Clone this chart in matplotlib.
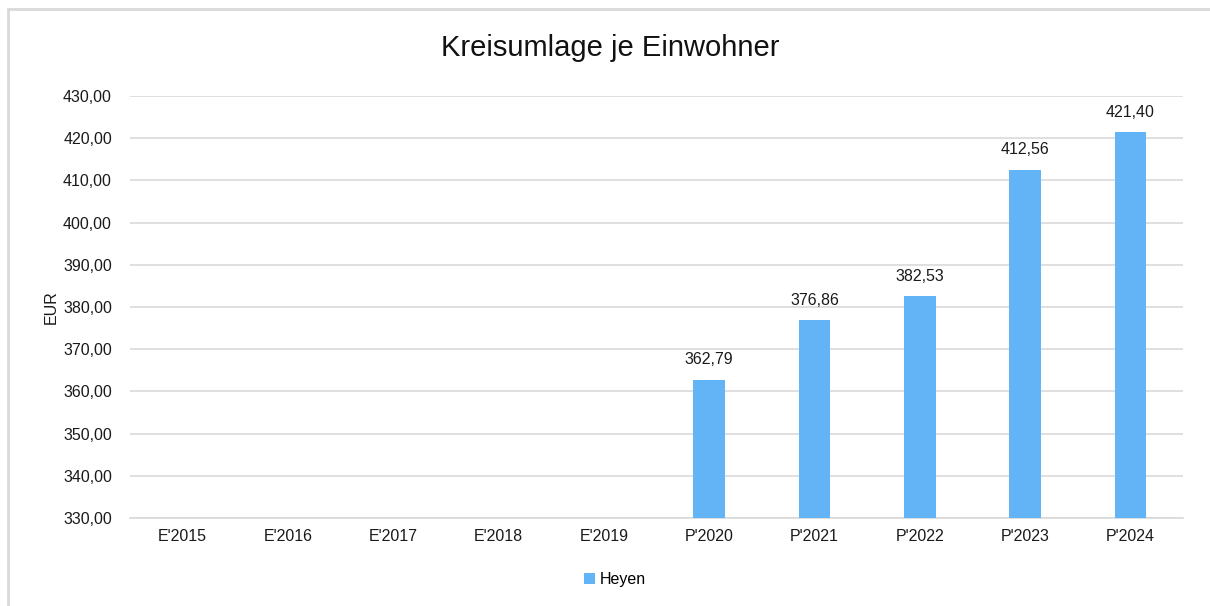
import matplotlib.pyplot as plt
from matplotlib.patches import Rectangle
import numpy as np

plt.rcParams['font.family'] = ['Liberation Sans', 'DejaVu Sans']

years = ["E'2015", "E'2016", "E'2017", "E'2018", "E'2019",
         "P'2020", "P'2021", "P'2022", "P'2023", "P'2024"]
heyen = [np.nan, np.nan, np.nan, np.nan, np.nan,
         362.79, 376.86, 382.53, 412.56, 421.40]

fig = plt.figure(figsize=(12.1, 6.06), dpi=100)
ax = fig.add_axes([0.1074, 0.1452, 0.8703, 0.6964])

x = np.arange(len(years))
bars = ax.bar(x, heyen, width=0.3, color='#63b4f6', label='Heyen', zorder=3)

for xi, v in zip(x, heyen):
    if not np.isnan(v):
        ax.text(xi, v + 3.0, f"{v:.2f}".replace('.', ','), ha='center', va='bottom',
                fontsize=11.5, color='#1a1a1a')

ax.set_ylim(330, 430)
ax.set_xlim(-0.5, len(years) - 0.5)
ax.set_yticks(np.arange(330, 431, 10))
ax.set_yticklabels([f"{t:.2f}".replace('.', ',') for t in np.arange(330, 431, 10)])
ax.set_xticks(x)
ax.set_xticklabels(years)
ax.tick_params(length=0, labelsize=11.5, colors='#1a1a1a', pad=8)
ax.tick_params(axis='y', pad=13)
ax.grid(axis='y', color='#d9d9d9', linewidth=1.2, zorder=0)
for s in ['top', 'right', 'left']:
    ax.spines[s].set_visible(False)
ax.spines['bottom'].set_color('#d9d9d9')
ax.spines['bottom'].set_linewidth(1.2)

ax.set_ylabel('EUR', fontsize=11.5, color='#1a1a1a', labelpad=3)
fig.text(0.504, 0.921, 'Kreisumlage je Einwohner', ha='center', va='center',
         fontsize=21, color='#111111')

fig.legend(loc='center', bbox_to_anchor=(0.508, 0.043), frameon=False,
           fontsize=11.5, handlelength=0.7, handleheight=0.7, handletextpad=0.3)

fig.patches.append(Rectangle((8 / 1210, -0.2), 1.2, 1.2 - 9 / 606, transform=fig.transFigure,
                             fill=False, edgecolor='#d9d9d9', linewidth=2))

fig.savefig('out.png', dpi=100)
